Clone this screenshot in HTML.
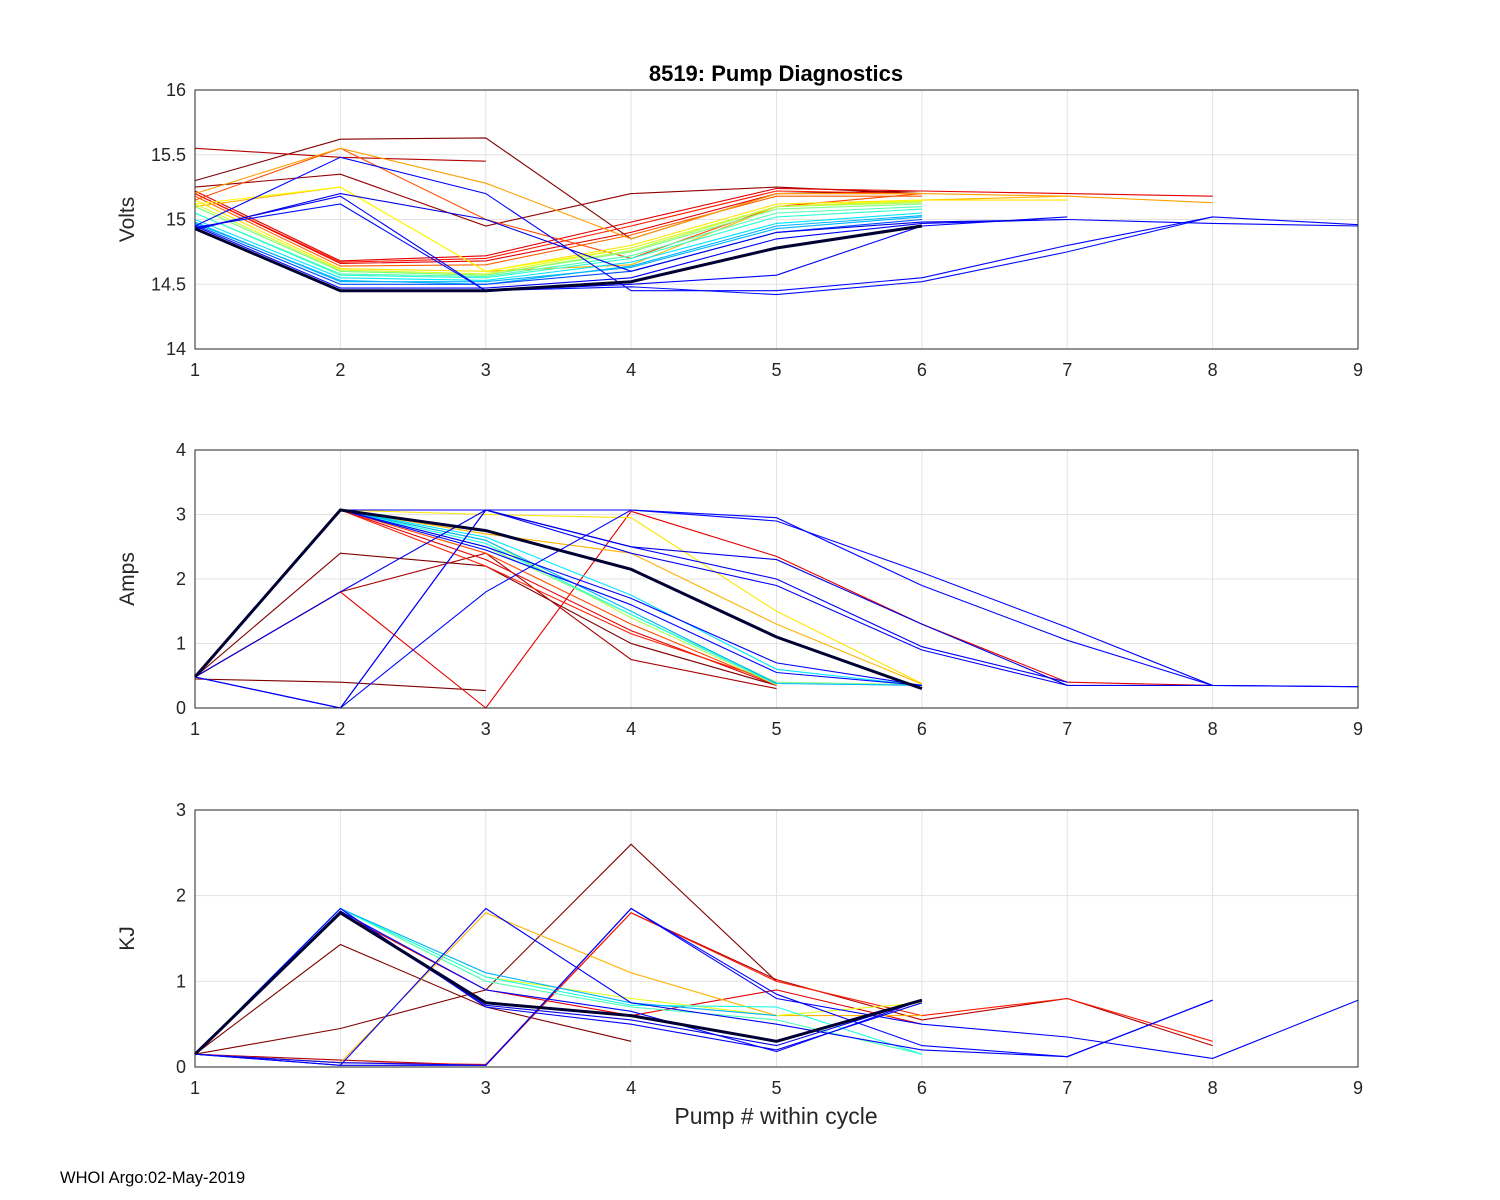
<!DOCTYPE html>
<html><head><meta charset="utf-8"><style>
body{margin:0;background:#fff;}
svg{display:block;font-family:"Liberation Sans",Arial,sans-serif;}
</style></head><body>
<svg id="fig" width="1500" height="1200" xmlns="http://www.w3.org/2000/svg">
<rect width="1500" height="1200" fill="#fff"/>
<text x="776" y="81" text-anchor="middle" font-size="22" font-weight="bold" fill="#000">8519: Pump Diagnostics</text>
<text x="776" y="1124" text-anchor="middle" font-size="23" fill="#262626">Pump # within cycle</text>
<text x="60" y="1183" font-size="16.5" fill="#000">WHOI Argo:02-May-2019</text>
</svg>
<script>
const xTicks=[1,2,3,4,5,6,7,8,9];
const voltTicks=[14,14.5,15,15.5,16];
const ampTicks=[0,1,2,3,4];
const kjTicks=[0,1,2,3];
// color index 0 = dark navy thick line; otherwise jet colormap position
const voltColors=[0.0,0.12,0.2,0.3,0.35,0.42,0.5,0.58,0.65,0.72,0.78,0.85,0.9,0.95,1.0,0.13,0.12,0.14,0.7,0.8,0.98,0.3,0.45,0.55,0.62,0.9,0.1];
const voltSeries=[
[14.93,14.45,14.45,14.52,14.78,14.95],
[14.95,14.47,14.47,14.55,14.85,14.97,15.0,14.97,14.95],
[14.96,14.5,14.5,14.6,14.9,15.0],
[14.98,14.52,14.52,14.63,14.93,15.02],
[15.0,14.55,14.53,14.67,14.97,15.05],
[15.05,14.57,14.55,14.7,15.02,15.08],
[15.1,14.6,14.57,14.75,15.08,15.12],
[15.12,14.61,14.58,14.78,15.1,15.14],
[15.15,14.62,14.6,14.8,15.12,15.15,15.15],
[15.2,15.55,15.28,14.85,15.2,15.2,15.18,15.13],
[15.18,14.64,14.65,14.88,15.18,15.18],
[15.2,14.67,14.7,14.95,15.22,15.2],
[15.22,14.68,14.72,14.98,15.24,15.22,15.2,15.18],
[15.55,15.48,15.45],
[15.3,15.62,15.63,14.85,15.2,15.22],
[14.95,15.48,15.2,14.45,14.45,14.55,14.8,15.02,14.96],
[14.93,15.18,14.45,14.5,14.57,14.95,15.02],
[14.94,15.12,14.45,14.48,14.42,14.52,14.75,15.02],
[15.1,15.25,14.6,14.65,15.1,15.15,15.18],
[15.15,15.55,15.0,14.7,15.1,15.2],
[15.25,15.35,14.95,15.2,15.25,15.2],
[14.97,14.53,14.5,14.64,14.95,15.03],
[15.05,14.58,14.56,14.72,15.05,15.1],
[15.1,14.6,14.57,14.76,15.1,15.13],
[15.12,15.25,14.6,14.78,15.1,15.15],
[15.2,14.66,14.68,14.9,15.2,15.2],
[14.92,15.2,15.0,14.6,14.9,14.98,15.0]
];
const ampColors=[0.0,0.12,0.13,0.3,0.4,0.55,0.65,0.8,0.9,0.96,1.0,0.12,0.13,1.0,0.1,0.9,0.7,0.12,0.35,0.5,0.85,0.13];
const ampSeries=[
[0.48,3.07,2.75,2.15,1.1,0.3],
[0.48,3.07,2.5,1.7,0.7,0.35],
[0.48,3.07,2.45,1.6,0.55,0.35],
[0.48,3.07,2.6,1.5,0.38,0.35],
[0.48,3.07,2.55,1.45,0.37],
[0.48,3.07,2.6,1.4,0.36],
[0.48,3.07,3.0,2.95,1.5,0.38],
[0.48,3.07,2.4,1.3,0.36],
[0.48,3.07,2.3,1.2,0.35],
[0.48,1.8,2.4,0.75,0.3],
[0.45,0.4,0.27],
[0.48,0,3.07,2.4,1.9,0.9,0.35],
[0.48,0,1.8,3.07,2.9,2.1,1.25,0.35,0.33],
[0.48,2.4,2.2,1.0,0.35],
[0.48,1.8,3.07,2.5,2.3,1.3,0.35,0.35],
[0.48,1.8,0,3.05,2.35,1.3,0.4,0.35],
[0.48,3.07,2.7,2.4,1.3,0.37],
[0.48,3.07,3.07,2.5,2.0,0.95,0.4],
[0.48,3.07,2.65,1.75,0.6,0.35],
[0.48,3.07,2.5,1.45,0.4,0.36],
[0.48,3.07,2.2,1.15,0.4],
[0.48,0,3.07,3.07,2.95,1.9,1.05,0.35,0.33]
];
const kjColors=[0.0,0.12,0.3,0.45,0.9,1.0,1.0,0.12,0.13,0.85,0.12,0.4,0.6,0.95,0.13,0.7,0.1];
const kjSeries=[
[0.15,1.8,0.75,0.6,0.3,0.78],
[0.15,1.85,0.7,0.5,0.2,0.75],
[0.15,1.85,1.1,0.75,0.6],
[0.15,1.85,1.0,0.7,0.55,0.15],
[0.15,1.8,0.9,0.6,0.9,0.5],
[0.15,0.45,0.9,2.6,1.0],
[0.15,1.43,0.7,0.3],
[0.15,0.02,1.85,0.75,0.5,0.2,0.12,0.78],
[0.15,0.05,0.02,1.85,0.85,0.25,0.12,0.78],
[0.15,0.05,0.03,1.8,1.0,0.6,0.8,0.3],
[0.15,0.02,0.02,1.85,0.8,0.5,0.35,0.1,0.78],
[0.15,1.85,1.05,0.72,0.7,0.15],
[0.15,1.85,1.05,0.8,0.6,0.75],
[0.15,0.08,0.02,1.8,1.02,0.55,0.8,0.25],
[0.15,1.82,0.9,0.65,0.18,0.78],
[0.15,0.05,1.8,1.1,0.6,0.6],
[0.15,1.8,0.72,0.55,0.25,0.78]
];
const NS='http://www.w3.org/2000/svg';
const svg=document.getElementById('fig');
function jet(t){
 const c=v=>Math.round(255*Math.max(0,Math.min(1,v)));
 return 'rgb('+c(1.5-Math.abs(4*t-3))+','+c(1.5-Math.abs(4*t-2))+','+c(1.5-Math.abs(4*t-1))+')';
}
function mk(tag,attrs){const e=document.createElementNS(NS,tag);for(const k in attrs)e.setAttribute(k,attrs[k]);return e;}
const X0=195,X1=1358;
const xs=v=>X0+(v-1)/(8)*(X1-X0);
function panel(name,top,bot,ticks,label,series,colors,tickFmt){
 const ymin=ticks[0],ymax=ticks[ticks.length-1];
 const ys=v=>bot-(v-ymin)/(ymax-ymin)*(bot-top);
 const g=mk('g',{});
 
 
 svg.appendChild(g);
 for(const t of xTicks){
  const l=mk('line',{x1:xs(t),x2:xs(t),y1:top,y2:bot,stroke:'#e3e3e3','stroke-width':1});
  
  
  g.appendChild(l);
  const tx=mk('text',{x:xs(t),y:bot+27,'text-anchor':'middle','font-size':18,fill:'#262626'});
  tx.textContent=t;
  
  
  g.appendChild(tx);
 }
 for(const t of ticks){
  const l=mk('line',{x1:X0,x2:X1,y1:ys(t),y2:ys(t),stroke:'#e3e3e3','stroke-width':1});
  
  
  g.appendChild(l);
  const tx=mk('text',{x:X0-9,y:ys(t)+6,'text-anchor':'end','font-size':18,fill:'#262626'});
  tx.textContent=tickFmt(t);
  
  
  g.appendChild(tx);
 }
 const order=series.map((s,i)=>i).sort((a,b)=>colors[b]-colors[a]);
 for(const i of order){
  const s=series[i];
  const pts=s.map((v,j)=>xs(j+1).toFixed(1)+','+ys(v).toFixed(1)).join(' ');
  const p=mk('polyline',{points:pts,fill:'none',stroke:colors[i]===0?'#000033':jet(colors[i]),'stroke-width':colors[i]===0?3:1.1});
  
  
  g.appendChild(p);
 }
 const box=mk('rect',{x:X0,y:top,width:X1-X0,height:bot-top,fill:'none',stroke:'#262626','stroke-width':1});
 
 
 g.appendChild(box);
 const yl=mk('text',{x:0,y:0,'text-anchor':'middle','font-size':21,fill:'#262626',transform:'translate(134,'+((top+bot)/2)+') rotate(-90)'});
 yl.textContent=label;
 
 
 g.appendChild(yl);
}
panel('volts',90,349,voltTicks,'Volts',voltSeries,voltColors,t=>String(t));
panel('amps',450,708,ampTicks,'Amps',ampSeries,ampColors,t=>String(t));
panel('kj',810,1067,kjTicks,'KJ',kjSeries,kjColors,t=>String(t));
</script>
</body></html>
